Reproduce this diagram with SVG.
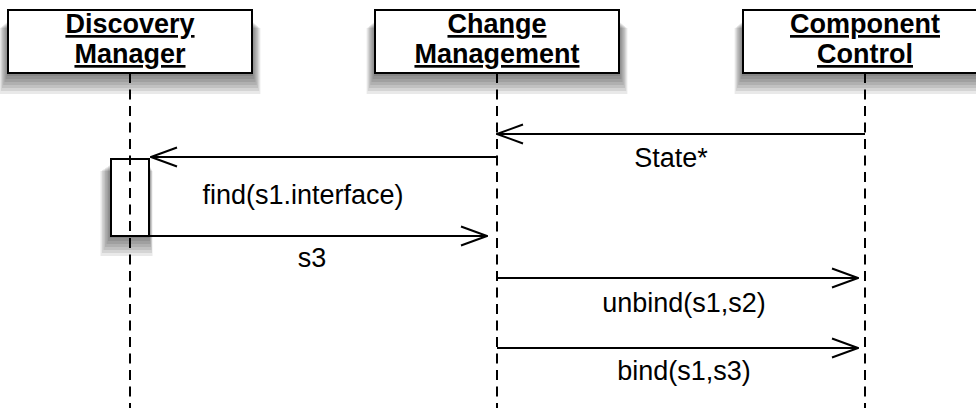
<svg xmlns="http://www.w3.org/2000/svg" width="976" height="408" viewBox="0 0 976 408">
  <defs>
    <marker id="open" viewBox="0 0 28 22" refX="27" refY="11" markerWidth="28" markerHeight="22" markerUnits="userSpaceOnUse" orient="auto">
      <path d="M1,1.5 L27,11 L1,20.5" fill="none" stroke="#000" stroke-width="2"/>
    </marker>
  </defs>
  <style>
    .box { fill: #fff; stroke: #000; stroke-width: 2; }
    .sh { fill: #000; fill-opacity: 0.085; stroke: none; }
    .title { font-family: "Liberation Sans", Arial, sans-serif; font-weight: bold; font-size: 27px; text-anchor: middle; text-decoration: underline; fill: #000; }
    .life { stroke: #000; stroke-width: 2; stroke-dasharray: 10 6.5; fill: none; }
    .msg { stroke: #000; stroke-width: 2; fill: none; marker-end: url(#open); }
    .label { font-family: "Liberation Sans", Arial, sans-serif; font-size: 27px; text-anchor: middle; fill: #000; }
  </style>
  <rect width="976" height="408" fill="#fff"/>

  <!-- soft drop shadows: stacked translucent layers behind each box -->
  <g id="shadows">
    <g transform="translate(8 10)">
      <rect class="sh" x="-1.2" y="12" width="246.4" height="54"/>
      <rect class="sh" x="-2.4" y="13" width="248.8" height="56"/>
      <rect class="sh" x="-3.6" y="14" width="251.2" height="58"/>
      <rect class="sh" x="-4.8" y="15" width="253.6" height="60"/>
      <rect class="sh" x="-6" y="16" width="256" height="62"/>
      <rect class="sh" x="-7.2" y="17" width="258.4" height="64"/>
      <rect class="sh" x="-8.4" y="18" width="260.8" height="66"/>
    </g>
    <g transform="translate(375 10)">
      <rect class="sh" x="-1.2" y="12" width="246.4" height="54"/>
      <rect class="sh" x="-2.4" y="13" width="248.8" height="56"/>
      <rect class="sh" x="-3.6" y="14" width="251.2" height="58"/>
      <rect class="sh" x="-4.8" y="15" width="253.6" height="60"/>
      <rect class="sh" x="-6" y="16" width="256" height="62"/>
      <rect class="sh" x="-7.2" y="17" width="258.4" height="64"/>
      <rect class="sh" x="-8.4" y="18" width="260.8" height="66"/>
    </g>
    <g transform="translate(743 10)">
      <rect class="sh" x="-1.2" y="12" width="246.4" height="54"/>
      <rect class="sh" x="-2.4" y="13" width="248.8" height="56"/>
      <rect class="sh" x="-3.6" y="14" width="251.2" height="58"/>
      <rect class="sh" x="-4.8" y="15" width="253.6" height="60"/>
      <rect class="sh" x="-6" y="16" width="256" height="62"/>
      <rect class="sh" x="-7.2" y="17" width="258.4" height="64"/>
      <rect class="sh" x="-8.4" y="18" width="260.8" height="66"/>
    </g>
    <g transform="translate(111 159)">
      <rect class="sh" x="-1.5" y="6" width="40" height="73"/>
      <rect class="sh" x="-3" y="7" width="42" height="75"/>
      <rect class="sh" x="-4.5" y="8" width="44" height="77"/>
      <rect class="sh" x="-6" y="9" width="46" height="79"/>
      <rect class="sh" x="-7.5" y="10" width="48" height="81"/>
      <rect class="sh" x="-9" y="11" width="50" height="83"/>
      <rect class="sh" x="-10.5" y="12" width="52" height="85"/>
    </g>
  </g>

  <!-- lifelines -->
  <g id="lifelines">
    <line class="life" x1="130" y1="73" x2="130" y2="408"/>
    <line class="life" x1="497" y1="73" x2="497" y2="408"/>
    <line class="life" x1="865" y1="73" x2="865" y2="408"/>
  </g>

  <g id="discovery-manager">
    <rect class="box" x="8" y="10" width="244" height="63"/>
    <text class="title" x="130" y="33">Discovery</text>
    <text class="title" x="130" y="63">Manager</text>
  </g>

  <g id="change-management">
    <rect class="box" x="375" y="10" width="244" height="63"/>
    <text class="title" x="497" y="33">Change</text>
    <text class="title" x="497" y="63">Management</text>
  </g>

  <g id="component-control">
    <rect class="box" x="743" y="10" width="244" height="63"/>
    <text class="title" x="865" y="33">Component</text>
    <text class="title" x="865" y="63">Control</text>
  </g>

  <g id="activation">
    <rect class="box" x="111" y="159" width="38" height="77"/>
    <line class="life" x1="130" y1="159" x2="130" y2="236" stroke-dashoffset="4"/>
  </g>

  <!-- messages -->
  <g id="connectors">
    <line class="msg" x1="865" y1="134" x2="497" y2="134"/>
    <line class="msg" x1="497" y1="157" x2="151" y2="157"/>
    <line class="msg" x1="149" y1="236" x2="487" y2="236"/>
    <line class="msg" x1="497" y1="278" x2="858" y2="278"/>
    <line class="msg" x1="497" y1="348" x2="858" y2="348"/>
  </g>

  <g id="labels">
    <text class="label" x="671" y="167">State*</text>
    <text class="label" x="303" y="204">find(s1.interface)</text>
    <text class="label" x="312" y="267">s3</text>
    <text class="label" x="684" y="312">unbind(s1,s2)</text>
    <text class="label" x="684" y="380">bind(s1,s3)</text>
  </g>
</svg>
